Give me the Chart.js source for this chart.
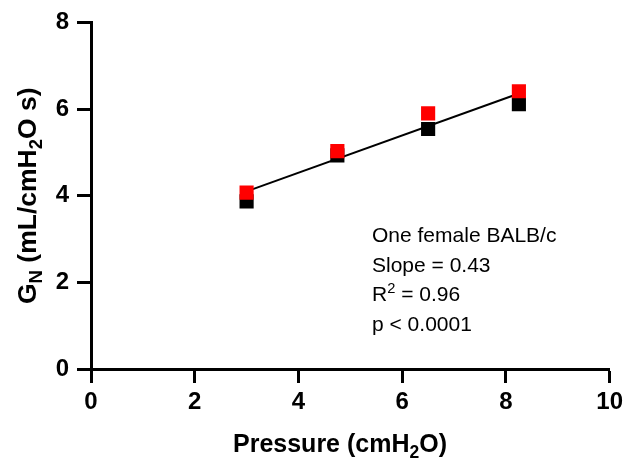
<!DOCTYPE html>
<html>
<head>
<meta charset="utf-8">
<script src="https://cdn.jsdelivr.net/npm/chart.js@4"></script>
<style>
  html, body { margin: 0; padding: 0; background: #fff; }
  #wrap { width: 628px; height: 462px; }
</style>
</head>
<body>
<div id="wrap"><canvas id="chart" width="628" height="462"></canvas></div>
<script>
// values
const pressure = [3.0, 4.75, 6.5, 8.25];
const gnRed = [4.07, 5.03, 5.90, 6.41];
const gnBlack = [3.87, 4.93, 5.54, 6.11];
const fitX = [3.0, 8.25];
const fitY = [4.10, 6.36];
const xTicks = { min: 0, max: 10, step: 2 };
const yTicks = { min: 0, max: 8, step: 2 };
const notes = [
  [{ t: 'One female BALB/c' }],
  [{ t: 'Slope = 0.43' }],
  [{ t: 'R' }, { t: '2', sup: true }, { t: ' = 0.96' }],
  [{ t: 'p < 0.0001' }],
];
const xTitle = [{ t: 'Pressure (cmH' }, { t: '2', sub: true }, { t: 'O)' }];
const yTitle = [{ t: 'G' }, { t: 'N', sub: true }, { t: ' (mL/cmH' }, { t: '2', sub: true }, { t: 'O s)' }];

const FAMILY = '"Liberation Sans", Arial, sans-serif';

function pts(xs, ys) {
  return xs.map((x, i) => ({ x: x, y: ys[i] }));
}

// draws a run of text parts with sub/superscripts, centred or left aligned
function drawRich(ctx, parts, x, y, size, weight, align) {
  const font = (s) => `${weight} ${s}px ${FAMILY}`;
  const small = size * 0.7;
  let total = 0;
  parts.forEach((p) => {
    ctx.font = font(p.sub || p.sup ? small : size);
    p.w = ctx.measureText(p.t).width;
    total += p.w;
  });
  let cx = align === 'center' ? x - total / 2 : x;
  ctx.textAlign = 'left';
  ctx.textBaseline = 'alphabetic';
  parts.forEach((p) => {
    ctx.font = font(p.sub || p.sup ? small : size);
    let dy = 0;
    if (p.sub) dy = size * 0.24;
    if (p.sup) dy = -size * 0.36;
    ctx.fillText(p.t, cx, y + dy);
    cx += p.w;
  });
}

const textPlugin = {
  id: 'texts',
  afterDraw(chart) {
    const ctx = chart.ctx;
    const area = chart.chartArea;
    ctx.save();
    ctx.fillStyle = '#000';
    drawRich(ctx, xTitle, 340, 452, 25, 'bold', 'center');
    ctx.save();
    ctx.translate(36, (area.top + area.bottom) / 2);
    ctx.rotate(-Math.PI / 2);
    drawRich(ctx, yTitle, 0, 0, 26.5, 'bold', 'center');
    ctx.restore();
    notes.forEach((line, i) => {
      drawRich(ctx, line, 372, 242 + i * 29.5, 21, 'normal', 'left');
    });
    ctx.restore();
  },
};

const axisCommon = {
  type: 'linear',
  grid: { drawOnChartArea: false, drawTicks: true, tickLength: 14, tickWidth: 3, tickColor: '#000' },
  border: { color: '#000', width: 3 },
  title: { display: false },
};

new Chart(document.getElementById('chart'), {
  type: 'scatter',
  data: {
    datasets: [
      {
        label: 'red',
        data: pts(pressure, gnRed),
        pointStyle: 'rect',
        pointRadius: 10,
        pointHoverRadius: 10,
        backgroundColor: '#ff0000',
        borderWidth: 0,
        order: 0,
      },
      {
        label: 'black',
        data: pts(pressure, gnBlack),
        pointStyle: 'rect',
        pointRadius: 10,
        pointHoverRadius: 10,
        backgroundColor: '#000000',
        borderWidth: 0,
        order: 1,
      },
      {
        label: 'fit',
        data: pts(fitX, fitY),
        showLine: true,
        pointRadius: 0,
        borderColor: '#000',
        borderWidth: 2,
        order: 2,
      },
    ],
  },
  options: {
    responsive: false,
    animation: false,
    layout: { padding: { left: 0, top: 19, right: 16, bottom: 0 } },
    plugins: { legend: { display: false }, tooltip: { enabled: false } },
    scales: {
      x: {
        ...axisCommon,
        position: 'bottom',
        min: xTicks.min,
        max: xTicks.max,
        ticks: { stepSize: xTicks.step, color: '#000', padding: 5, font: { family: FAMILY, size: 24, weight: 'bold' } },
        afterFit: (scale) => { scale.height = 93; },
      },
      y: {
        ...axisCommon,
        position: 'left',
        min: yTicks.min,
        max: yTicks.max,
        ticks: { stepSize: yTicks.step, color: '#000', padding: 8, font: { family: FAMILY, size: 24, weight: 'bold' } },
        afterFit: (scale) => { scale.width = 91; },
      },
    },
  },
  plugins: [textPlugin],
});
</script>
</body>
</html>
